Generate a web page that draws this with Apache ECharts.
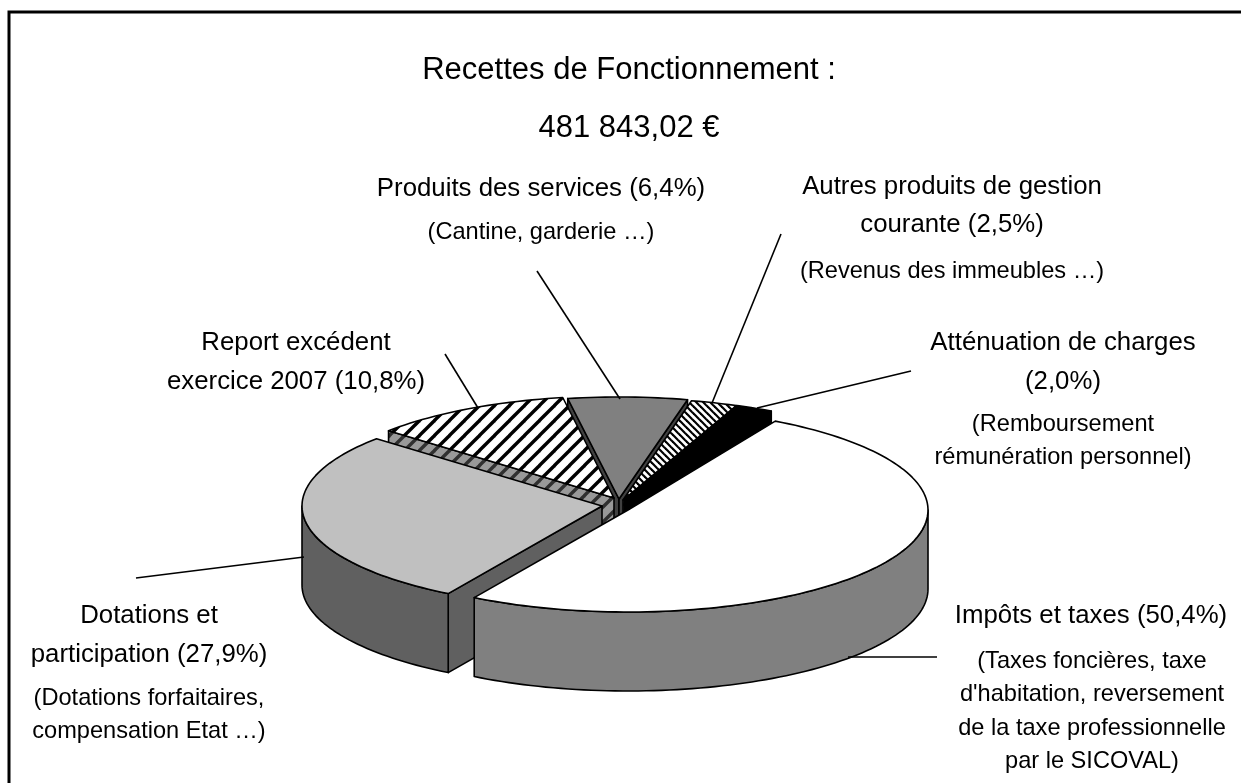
<!DOCTYPE html>
<html><head><meta charset="utf-8">
<style>html,body{margin:0;padding:0;background:#fff}#c{width:1241px;height:783px}</style>
<script src="https://cdn.jsdelivr.net/npm/echarts@6/dist/echarts.min.js"></script>
</head><body><div id="c"></div>
<script>
// ---- data ----
const categories = ['Impôts et taxes','Dotations et participation','Report excédent exercice 2007','Produits des services','Autres produits de gestion courante','Atténuation de charges'];
const shares = [50.4, 27.9, 10.8, 6.4, 2.5, 2.0];
const titleLines = ['Recettes de Fonctionnement :','481 843,02 €'];
const labelLines = [
 ['Impôts et taxes (50,4%)'],
 ['(Taxes foncières, taxe',"d'habitation, reversement",'de la taxe professionnelle','par le SICOVAL)'],
 ['Dotations et','participation (27,9%)'],
 ['(Dotations forfaitaires,','compensation Etat …)'],
 ['Report excédent','exercice 2007 (10,8%)'],
 ['Produits des services (6,4%)'],
 ['(Cantine, garderie …)'],
 ['Autres produits de gestion','courante (2,5%)'],
 ['(Revenus des immeubles …)'],
 ['Atténuation de charges','(2,0%)'],
 ['(Remboursement','rémunération personnel)']
];
// ---- layout / style ----
const BIG = 25.8, SMALL = 23.6;
const labelPlace = [[1091,616,0,BIG],[1092,661.5,33.3,SMALL],[149,615.5,39,BIG],[149,698,33,SMALL],[296,342.5,39,BIG],[541,188.5,0,BIG],[541,232.5,0,SMALL],[952,187,38,BIG],[952,271,0,SMALL],[1063,342.5,39,BIG],[1063,424.5,33,SMALL]];
const leaders = [[[537,271],[620,399]],[[781,234],[712,403]],[[911,371],[757,408]],[[445,354],[478,408]],[[136,578],[304,557]],[[937,657],[848,657]]];
const startDeg = 29.4, RX = 300, RY = 102, H = 79;
const center = [620,500];
const offsets = [[8,10],[-18,6],[-6,-2],[-1,-1],[3,0],[4,0]];
const paintRank = [5,4,3,0,1,2];
function tile(n, back, fore, w, dir){
  const c = document.createElement('canvas'); c.width = c.height = n;
  const g = c.getContext('2d'); g.fillStyle = back; g.fillRect(0,0,n,n);
  g.strokeStyle = fore; g.lineWidth = w;
  for(let k=-1;k<=1;k++){ g.beginPath();
    if(dir>0){ g.moveTo(k*n-1,n+1); g.lineTo(k*n+n+1,-1);} else { g.moveTo(k*n-1,-1); g.lineTo(k*n+n+1,n+1);}
    g.stroke(); }
  return {image:c, repeat:'repeat'};
}
const hatchWide = tile(15,'#fff','#000',3.4,1), hatchWideWall = tile(15,'#999','#303030',3.4,1);
const hatchFine = tile(7,'#fff','#000',2.2,-1), hatchFineWall = tile(7,'#999','#303030',2.2,-1);
const topFill = ['#fff','#c0c0c0',hatchWide,'#808080',hatchFine,'#000'];
const wallFill = ['#808080','#606060',hatchWideWall,'#404040',hatchFineWall,'#000'];
const rad = d => d*Math.PI/180;
let acc = startDeg; const starts = shares.map(s => { const a = acc; acc += s*3.6; return a; });

function renderItem(params, api){
  const i = params.dataIndex, share = api.value(0), a0 = starts[i], a1 = a0 + share*3.6;
  const cx = center[0]+offsets[i][0], cy = center[1]+offsets[i][1];
  const pt = (a,dy) => [cx+RX*Math.sin(rad(a)), cy-RY*Math.cos(rad(a))+(dy||0)];
  const arc = (f,t,dy) => { const n = Math.max(2,Math.ceil(Math.abs(t-f)/1.5)); const o=[]; for(let k=0;k<=n;k++) o.push(pt(f+(t-f)*k/n,dy)); return o; };
  const base = paintRank[i]*10; const kids = [];
  const st = f => ({fill:f, stroke:'#000', lineWidth:1.6, lineJoin:'round'});
  const face = a => kids.push({type:'polygon', z2:base, shape:{points:[[cx,cy],pt(a),pt(a,H),[cx,cy+H]]}, style:st(wallFill[i])});
  if(Math.sin(rad(a0))<0) face(a0);
  if(Math.sin(rad(a1))>0) face(a1);
  [[90,270],[450,630]].forEach(r => { const f=Math.max(a0,r[0]), t=Math.min(a1,r[1]);
    if(t>f) kids.push({type:'polygon', z2:base+1, shape:{points:arc(f,t).concat(arc(t,f,H))}, style:st(wallFill[i])}); });
  kids.push({type:'polygon', z2:base+2, shape:{points:[[cx,cy]].concat(arc(a0,a1))}, style:st(topFill[i])});
  return {type:'group', children:kids};
}
const FONT = '"Liberation Sans", Arial, sans-serif';
const graphics = [];
graphics.push({type:'polyline', z:5, shape:{points:[[9,783],[9,12],[1241,12]]}, style:{fill:null, stroke:'#000', lineWidth:3}});
titleLines.forEach((t,k)=>graphics.push({type:'text', z:20, x:629, y:70+k*58, style:{text:t, font:'31px '+FONT, fill:'#000', align:'center', verticalAlign:'middle'}}));
labelLines.forEach((lines,k)=>{ const p = labelPlace[k]; lines.forEach((t,j)=>{
  graphics.push({type:'text', z:20, x:p[0], y:p[1]+j*p[2], style:{text:t, font:p[3]+'px '+FONT, fill:'#000', align:'center', verticalAlign:'middle'}}); }); });
leaders.forEach(l=>graphics.push({type:'line', z:10, shape:{x1:l[0][0],y1:l[0][1],x2:l[1][0],y2:l[1][1]}, style:{stroke:'#000', lineWidth:1.6}}));
const chart = echarts.init(document.getElementById('c'), null, {renderer:'canvas'});
chart.setOption({
  animation:false, backgroundColor:'#fff',
  graphic:graphics,
  series:[{type:'custom', coordinateSystem:'none', renderItem:renderItem, silent:true,
    data:shares.map((s,i)=>({name:categories[i], value:[s]}))}]
});
</script></body></html>
